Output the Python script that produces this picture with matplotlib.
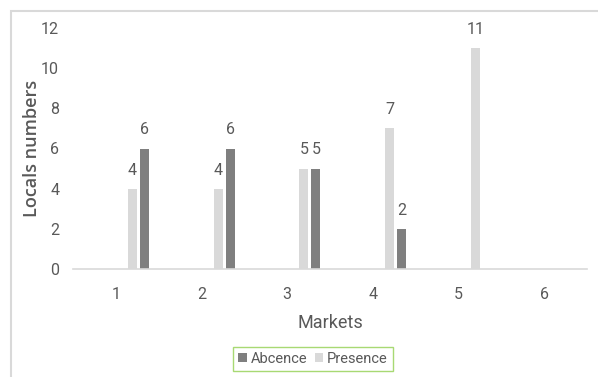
import matplotlib
matplotlib.use("Agg")
import matplotlib.pyplot as plt
from matplotlib.patches import Rectangle
import numpy as np

plt.rcParams['font.family'] = ['Roboto', 'DejaVu Sans']

# data
markets = [1, 2, 3, 4, 5, 6]
presence = [4, 4, 5, 7, 11, 0]
abcence = [6, 6, 5, 2, 0, 0]

txt = '#595959'
c_pres = '#D9D9D9'
c_abs = '#7F7F7F'

fig = plt.figure(figsize=(5.98, 3.77), dpi=100)
ax = fig.add_axes([73/598, 1-269/377, 514/598, 241/377])

x = np.arange(len(markets)) + 1
w = 0.105
b1 = ax.bar(x + 0.195, presence, w, color=c_pres, label='Presence')
b2 = ax.bar(x + 0.335, abcence, w, color=c_abs, label='Abcence')

# value labels, zeros are left out
for bars in (b1, b2):
    for r in bars:
        h = r.get_height()
        if h > 0:
            ax.annotate(str(int(h)), (r.get_x() + r.get_width()/2, h),
                        xytext=(0, 8), textcoords='offset points',
                        ha='center', va='bottom', fontsize=11.5, color=txt)

ax.set_xlim(0.5, 6.5)
ax.set_ylim(0, 12)
ax.set_yticks(range(0, 13, 2))
ax.set_xticks(x)
ax.set_xticklabels([str(m) for m in markets])
ax.tick_params(length=0, labelsize=11.5, labelcolor=txt)
ax.tick_params(axis='y', pad=10)
ax.tick_params(axis='x', pad=13)
for s in ['top', 'right', 'left']:
    ax.spines[s].set_visible(False)
ax.spines['bottom'].set_color('#D9D9D9')
ax.spines['bottom'].set_linewidth(1.2)

ax.set_ylabel('Locals numbers', fontsize=13, color=txt, family='Open Sans',
              fontweight='semibold')
ax.yaxis.set_label_coords(-0.062, 0.5)
ax.set_xlabel('Markets', fontsize=13, color=txt)
ax.xaxis.set_label_coords(0.5, -0.185)

leg = fig.legend([b2, b1], ['Abcence', 'Presence'], loc='center',
                 bbox_to_anchor=(313/598, 1-359/377), ncol=2, frameon=True,
                 fancybox=False, edgecolor='#92D050', fontsize=10.5,
                 handlelength=0.6, handleheight=0.6, handletextpad=0.25,
                 columnspacing=0.5, borderpad=0.35, borderaxespad=0,
                 labelcolor=txt)
leg.get_frame().set_linewidth(1.0)

fig.patches.append(Rectangle((11/598, -0.1), 1.2, 1-11/377+0.1,
                             transform=fig.transFigure, fill=False,
                             edgecolor='#D9D9D9', linewidth=1.5))

fig.savefig('out.png', dpi=100)
